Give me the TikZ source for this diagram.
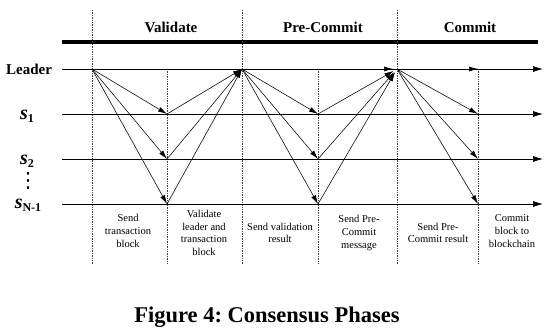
\documentclass[tikz,border=0pt]{standalone}
\usepackage{fontspec}
\setmainfont{Liberation Serif}
\newfontfamily\symfont{DejaVu Sans}
\usepackage{tikz}
\usetikzlibrary{arrows.meta, positioning}
\tikzstyle{phase} = [font=\fontsize{15}{17}\selectfont\bfseries, inner sep=0pt]
\tikzstyle{party} = [font=\fontsize{15}{17}\selectfont\bfseries, inner sep=0pt]
\tikzstyle{note} = [font=\fontsize{10.5}{12.7}\selectfont, align=center, inner sep=0pt]
\tikzstyle{lane} = [line width=0.7pt, -{Latex[length=10pt,width=6pt]}]
\tikzstyle{msg} = [line width=0.55pt, -{Latex[length=9pt,width=5pt]}]
\tikzstyle{divider} = [line width=0.7pt, densely dotted, black!75]
\newcommand{\srv}[1]{{\fontsize{20}{20}\selectfont\bfseries\itshape s}\raisebox{-0.45ex}{\fontsize{12}{12}\selectfont\bfseries #1}}
\frenchspacing

\begin{document}
\begin{tikzpicture}[x=1pt, y=-1pt]
    \useasboundingbox (0,0) rectangle (555,331);

    \node (validate) [phase] at (171,27) {Validate};
    \node (precommit) [phase] at (323,27) {Pre-Commit};
    \node (commit) [phase] at (470,27) {Commit};
    \draw [line width=3.5pt] (62,42) -- (538,42);

    \draw [divider] (92,10) -- (92,264);
    \draw [divider] (167,69) -- (167,264);
    \draw [divider] (242,10) -- (242,264);
    \draw [divider] (318,69) -- (318,264);
    \draw [divider] (397,10) -- (397,264);
    \draw [divider] (478,69) -- (478,264);

    \node (leader) [party] at (29,69) {Leader};
    \node (sa) [party] at (27,116) {\srv{1}};
    \node (sb) [party] at (27,161) {\srv{2}};
    \node (dots) [party, font=\symfont\fontsize{21}{21}\selectfont] at (28,181) {⋮};
    \node (sn) [party] at (28,205) {\srv{N-1}};

    \coordinate (leader-in) at (62,69);  \coordinate (leader-out) at (543,69);
    \coordinate (sa-in) at (62,114);     \coordinate (sa-out) at (543,114);
    \coordinate (sb-in) at (62,159);     \coordinate (sb-out) at (543,159);
    \coordinate (sn-in) at (62,204);     \coordinate (sn-out) at (543,204);
    \draw [lane] (leader-in) -- (leader-out);
    \draw [lane] (sa-in) -- (sa-out);
    \draw [lane] (sb-in) -- (sb-out);
    \draw [lane] (sn-in) -- (sn-out);

    \coordinate (l0) at (92,69);  \coordinate (l2) at (242,69);
    \coordinate (l4) at (397,69); \coordinate (l5) at (478,69);
    \coordinate (a1) at (167,114); \coordinate (a3) at (318,114); \coordinate (a5) at (478,114);
    \coordinate (b1) at (167,159); \coordinate (b3) at (318,159); \coordinate (b5) at (478,159);
    \coordinate (n1) at (167,204); \coordinate (n3) at (318,204); \coordinate (n5) at (478,204);

    \draw [msg] (l0) -- (a1);
    \draw [msg] (l0) -- (b1);
    \draw [msg] (l0) -- (n1);
    \draw [msg] (a1) -- (l2);
    \draw [msg] (b1) -- (l2);
    \draw [msg] (n1) -- (l2);

    \draw [msg] (l2) -- (a3);
    \draw [msg] (l2) -- (b3);
    \draw [msg] (l2) -- (n3);
    \draw [msg, shorten >=4pt] (l2) -- (l4);
    \draw [msg, shorten >=4pt] (a3) -- (l4);
    \draw [msg, shorten >=4pt] (b3) -- (l4);
    \draw [msg, shorten >=4pt] (n3) -- (l4);

    \draw [msg] (l4) -- (a5);
    \draw [msg] (l4) -- (b5);
    \draw [msg] (l4) -- (n5);
    \draw [msg] (l4) -- (l5);

    \node (note1) [note] at (128,231) {Send\\transaction\\block};
    \node (note2) [note] at (204,233) {Validate\\leader and\\transaction\\block};
    \node (note3) [note] at (280,233) {Send validation\\result};
    \node (note4) [note] at (359,233) {Send Pre-\\Commit\\message};
    \node (note5) [note] at (438,233) {Send Pre-\\Commit result};
    \node (note6) [note] at (512,231) {Commit\\block to\\blockchain};

    \node (caption) [font=\fontsize{22.5}{26}\selectfont\bfseries] at (267,317) {Figure 4: Consensus Phases};
\end{tikzpicture}
\end{document}
